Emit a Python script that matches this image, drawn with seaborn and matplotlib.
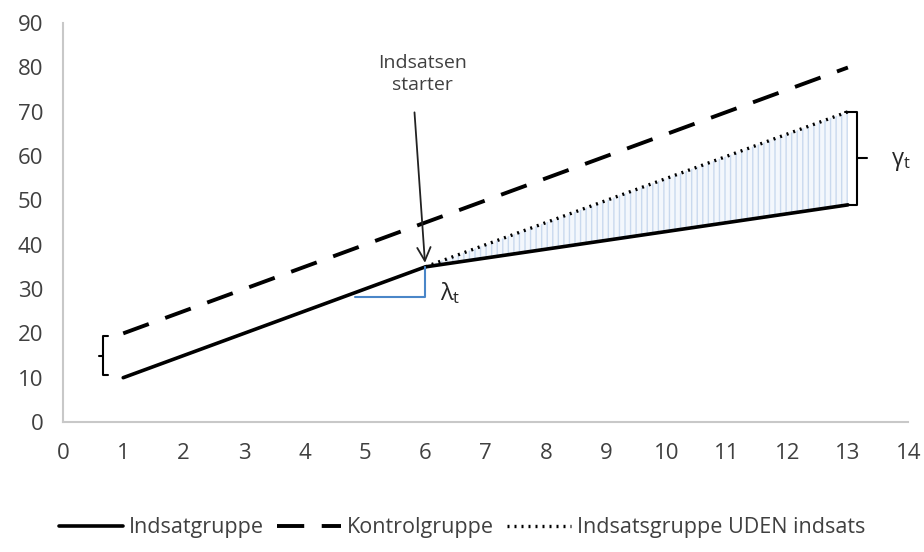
import numpy as np
import pandas as pd
import seaborn as sns
import matplotlib.pyplot as plt

# data
periods = [1, 2, 3, 4, 5, 6, 7, 8, 9, 10, 11, 12, 13]
treated = [10, 15, 20, 25, 30, 35, 37, 39, 41, 43, 45, 47, 49]
control = [20, 25, 30, 35, 40, 45, 50, 55, 60, 65, 70, 75, 80]
cf_periods = [6, 7, 8, 9, 10, 11, 12, 13]
counterfactual = [35, 40, 45, 50, 55, 60, 65, 70]

sns.set_style("white")
plt.rcParams['font.family'] = ['Open Sans', 'DejaVu Sans']
plt.rcParams['mathtext.fontset'] = 'dejavusans'

df = pd.DataFrame({"x": periods, "Indsatgruppe": treated, "Kontrolgruppe": control})
cf = pd.DataFrame({"x": cf_periods, "y": counterfactual})

fig = plt.figure(figsize=(9.24, 5.52), dpi=100)
ax = fig.add_axes([0.068, 0.2355, 0.915, 0.7225])

# shaded gap between counterfactual and treated group
ax.fill_between(cf_periods, counterfactual, treated[5:], facecolor="#f3f7fc",
                edgecolor="#c9d9ee", hatch="|||", linewidth=0)

sns.lineplot(data=df, x="x", y="Indsatgruppe", ax=ax, color="black", lw=2.6,
             label="Indsatgruppe")
sns.lineplot(data=df, x="x", y="Kontrolgruppe", ax=ax, color="black", lw=2.8,
             dashes=(7, 4.5), label="Kontrolgruppe")
sns.lineplot(data=cf, x="x", y="y", ax=ax, color="black", lw=2.4,
             linestyle=(0, (0.6, 1.5)), label="Indsatsgruppe UDEN indsats")

# lambda triangle
ax.plot([4.84, 6, 6], [28.3, 28.3, 35], color="#4a86c8", lw=1.5)
ax.text(6.25, 29.0, r"$\mathregular{\lambda_t}$", fontsize=17, va="center")

# arrow with label
ax.annotate("", xy=(6.0, 35.3), xytext=(5.82, 70.5),
            arrowprops=dict(arrowstyle="->", color="#222222", lw=1.3,
                            mutation_scale=24))
ax.text(5.95, 78.5, "Indsatsen\nstarter", ha="center", va="center",
        fontsize=14, color="#404040", linespacing=1.3)

# gamma bracket on the right
ax.plot([12.95, 13.15, 13.15, 12.95], [70, 70, 49, 49], color="black", lw=1.5)
ax.plot([13.15, 13.32], [59.5, 59.5], color="black", lw=1.5)
ax.text(13.72, 58.8, r"$\mathregular{\gamma_t}$", fontsize=17, va="center")

# brace on the left
ax.plot([0.74, 0.67, 0.67, 0.74], [19.5, 19.5, 10.5, 10.5], color="black", lw=1.5)
ax.plot([0.67, 0.6], [15, 15], color="black", lw=1.5)

ax.set_xlim(0, 14)
ax.set_ylim(0, 90)
ax.set_xticks(range(0, 15))
ax.set_yticks(range(0, 91, 10))
ax.set_xlabel("")
ax.set_ylabel("")
sns.despine(ax=ax)
for s in ["left", "bottom"]:
    ax.spines[s].set_color("#c8c8c8")
    ax.spines[s].set_linewidth(1.5)
ax.tick_params(axis="both", width=1.2, color="#c8c8c8",
               labelsize=16, labelcolor="#404040", direction="out")
ax.tick_params(axis="y", length=7, pad=7)
ax.tick_params(axis="x", length=5, pad=10)

ax.legend(loc="upper center", bbox_to_anchor=(0.472, -0.19), ncol=3, frameon=False,
          fontsize=15.5, handlelength=3.0, handletextpad=0.25, columnspacing=0.6,
          labelcolor="#404040")

fig.savefig("out.png", dpi=100)
